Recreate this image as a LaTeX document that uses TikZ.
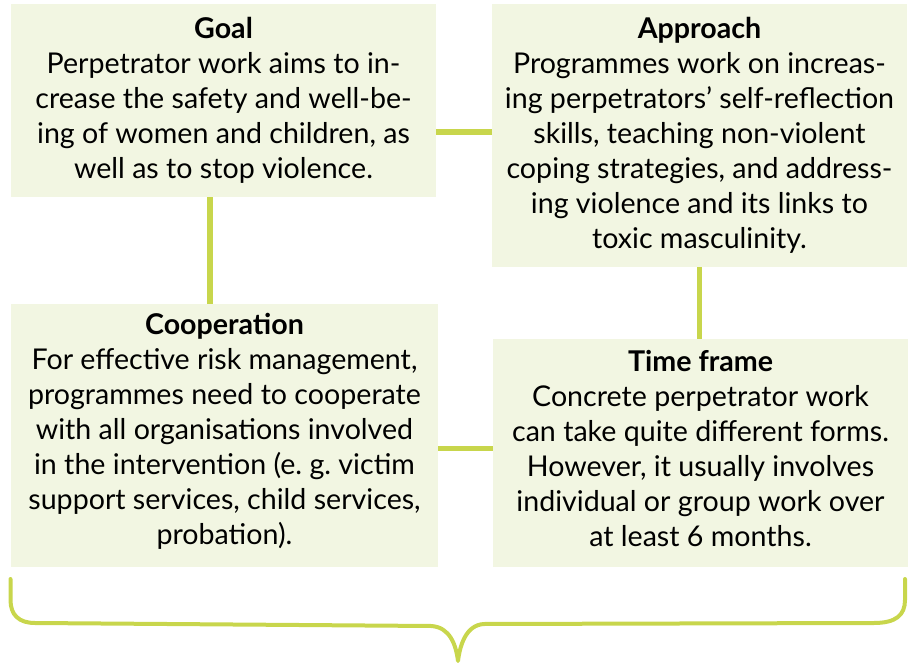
\documentclass[tikz,border=0pt]{standalone}
\usepackage{fontspec}
\setmainfont{Lato}
\usepackage{xcolor}
\definecolor{boxfill}{RGB}{242,246,226}
\definecolor{linkgreen}{RGB}{200,214,76}
\frenchspacing

\begin{document}
\begin{tikzpicture}[x=1pt, y=-1pt,
  infobox/.style={fill=boxfill, inner sep=0pt, align=center,
    font=\fontsize{28.6}{35}\selectfont},
  link/.style={linkgreen, line width=5.5pt},
  bracket/.style={linkgreen, line width=4pt, line cap=round, line join=round}]
\useasboundingbox (0,0) rectangle (914,663);
%
\node[infobox, minimum width=425pt, minimum height=193pt] (goal) at (223.5,100.5)
  {\textbf{Goal}\\Perpetrator work aims to in-\\crease the safety and well-be-\\ing of women and children, as\\well as to stop violence.};
\node[infobox, minimum width=415pt, minimum height=263pt] (approach) at (699.5,135.5)
  {\textbf{Approach}\\Programmes work on increas-\\ing perpetrators’ self-reflection\\skills, teaching non-violent\\coping strategies, and address-\\ing violence and its links to\\toxic masculinity.};
\node[infobox, minimum width=427pt, minimum height=263pt, text depth=12.5pt] (coop) at (224.5,435.5)
  {\textbf{Cooperation}\\For effective risk management,\\programmes need to cooperate\\with all organisations involved\\in the intervention (e. g. victim\\support services, child services,\\probation).};
\node[infobox, minimum width=415pt, minimum height=228pt, text depth=9.5pt] (time) at (700.5,453)
  {\textbf{Time frame}\\Concrete perpetrator work\\can take quite different forms.\\However, it usually involves\\individual or group work over\\at least 6 months.};
%
\coordinate (ga) at ([yshift=3.5pt]approach.west);
\draw[link] (ga) -- (ga -| goal.east);
\coordinate (gc) at ([xshift=-14.5pt]coop.north);
\draw[link] (gc) -- (gc |- goal.south);
\draw[link] (approach.south) -- (approach.south |- time.north);
\coordinate (ct) at ([yshift=4.5pt]time.west);
\draw[link] (ct) -- (ct -| coop.east);
%
\draw[bracket] (10.5,579) -- (10.5,600) .. controls (10.5,615) and (19,623) .. (35,623)
  -- (431,626) .. controls (450,627) and (456,645) .. (458,661)
  .. controls (460,645) and (466,625) .. (484,624)
  -- (874,623) .. controls (896,623) and (905,615) .. (905,600) -- (905,579);
\end{tikzpicture}
\end{document}
